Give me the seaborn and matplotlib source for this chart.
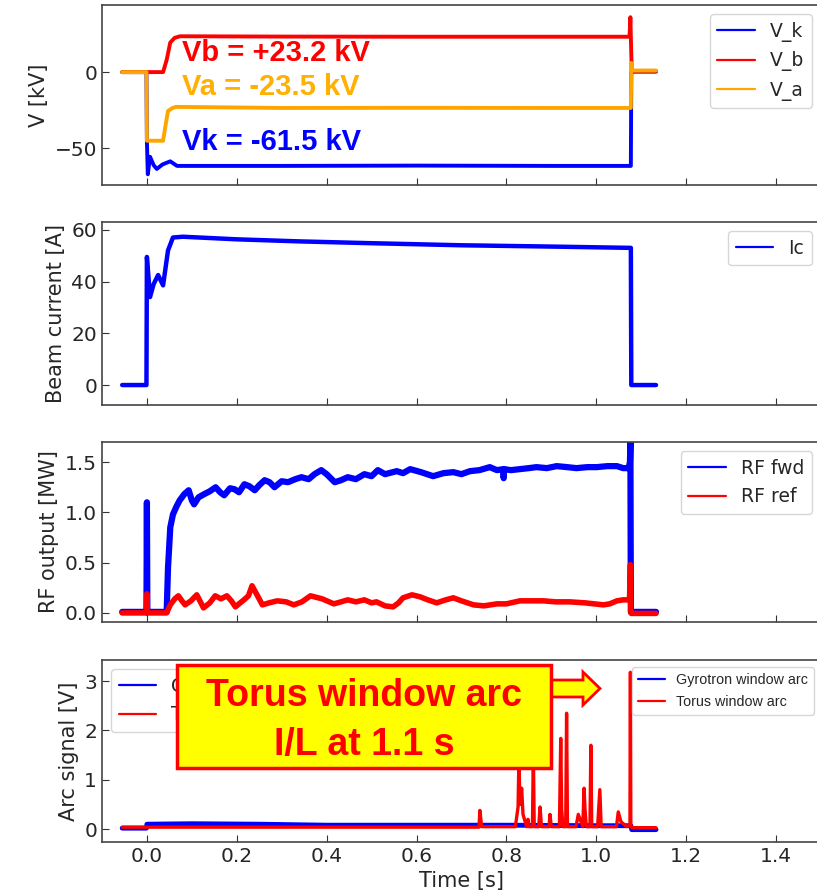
import numpy as np
import pandas as pd
import matplotlib
matplotlib.use("Agg")
import matplotlib.pyplot as plt
import matplotlib.patches as mpatches
import seaborn as sns

# --- voltages [kV] ---
t_vk = [-0.055, -0.001, 0.0, 0.002, 0.007, 0.015, 0.022, 0.035, 0.052, 0.067, 0.3, 0.6, 0.9, 1.077, 1.078, 1.08, 1.133]
vk = [0.0, 0.0, -45.0, -67.0, -55.5, -61.0, -63.5, -60.5, -58.5, -61.5, -61.5, -61.3, -61.5, -61.5, 0.0, 0.3, 0.3]
t_vb = [-0.055, 0.036, 0.044, 0.052, 0.062, 0.074, 0.3, 0.6, 0.9, 1.074, 1.076, 1.077, 1.079, 1.133]
vb = [0.0, 0.0, 8.0, 19.4, 22.5, 23.5, 23.3, 23.2, 23.2, 23.2, 36.0, 23.0, 0.8, 0.8]
t_va = [-0.055, -0.001, 0.0, 0.036, 0.042, 0.047, 0.057, 0.065, 0.3, 0.6, 0.9, 1.077, 1.078, 1.079, 1.082, 1.133]
va = [0.0, 0.0, -45.0, -45.0, -34.0, -25.5, -23.5, -22.8, -23.5, -23.4, -23.5, -23.5, 6.0, 2.0, 1.0, 1.0]

# --- beam current [A] ---
t_ic = [-0.055, -0.001, 0.0, 0.007, 0.015, 0.025, 0.036, 0.047, 0.058, 0.08, 0.2, 0.34, 0.5, 0.7, 0.9, 1.077, 1.078, 1.133]
ic = [0.0, 0.0, 49.5, 34.0, 39.0, 42.5, 38.5, 52.0, 57.0, 57.3, 56.3, 55.5, 54.8, 54.0, 53.5, 53.0, 0.0, 0.0]

# --- RF power [MW] ---
t_fwd = [-0.055, -0.001, 0.0, 0.001, 0.044, 0.047, 0.052, 0.058, 0.066, 0.073, 0.083, 0.093, 0.1, 0.105,
         0.115, 0.127, 0.14, 0.153, 0.163, 0.172, 0.185, 0.195, 0.205, 0.217, 0.228, 0.24, 0.25, 0.262, 0.273,
         0.284, 0.3, 0.314, 0.33, 0.344, 0.36, 0.373, 0.388, 0.4, 0.418, 0.432, 0.447, 0.465, 0.484, 0.5,
         0.514, 0.53, 0.556, 0.57, 0.586, 0.61, 0.637, 0.66, 0.682, 0.7, 0.719, 0.74, 0.763, 0.779, 0.793,
         0.794, 0.795, 0.81, 0.83, 0.85, 0.867, 0.89, 0.912, 0.935, 0.956, 0.98, 1.001, 1.025, 1.046, 1.06,
         1.072, 1.075, 1.076, 1.077, 1.079, 1.133]
fwd = [0.01, 0.01, 1.1, 0.01, 0.01, 0.45, 0.85, 0.98, 1.06, 1.12, 1.18, 1.22, 1.12, 1.08,
       1.15, 1.18, 1.21, 1.25, 1.2, 1.17, 1.24, 1.23, 1.2, 1.28, 1.26, 1.22, 1.27, 1.32, 1.3,
       1.25, 1.31, 1.3, 1.33, 1.35, 1.33, 1.38, 1.42, 1.38, 1.3, 1.32, 1.35, 1.33, 1.38, 1.36,
       1.42, 1.38, 1.41, 1.39, 1.43, 1.4, 1.36, 1.39, 1.4, 1.38, 1.41, 1.42, 1.45, 1.42, 1.43,
       1.34, 1.43, 1.42, 1.43, 1.44, 1.45, 1.44, 1.46, 1.45, 1.44, 1.45, 1.45, 1.46, 1.46, 1.44,
       1.44, 1.5, 1.7, 0.01, 0.01, 0.01]
t_ref = [-0.055, -0.001, 0.0, 0.001, 0.044, 0.052, 0.062, 0.07, 0.078, 0.085, 0.098, 0.111, 0.118, 0.126,
         0.14, 0.152, 0.165, 0.178, 0.188, 0.197, 0.205, 0.216, 0.226, 0.234, 0.245, 0.257, 0.272, 0.29,
         0.31, 0.327, 0.345, 0.364, 0.39, 0.416, 0.432, 0.447, 0.465, 0.484, 0.5, 0.511, 0.53, 0.548, 0.56,
         0.57, 0.59, 0.608, 0.625, 0.645, 0.665, 0.682, 0.7, 0.727, 0.75, 0.779, 0.8, 0.83, 0.855, 0.882,
         0.91, 0.941, 0.975, 1.016, 1.03, 1.046, 1.06, 1.074, 1.076, 1.077, 1.078, 1.133]
ref = [0.0, 0.0, 0.19, 0.0, 0.0, 0.08, 0.14, 0.17, 0.12, 0.08, 0.12, 0.18, 0.12, 0.05,
       0.1, 0.17, 0.14, 0.17, 0.12, 0.06, 0.09, 0.13, 0.17, 0.27, 0.18, 0.08, 0.1, 0.12,
       0.11, 0.08, 0.11, 0.17, 0.14, 0.09, 0.11, 0.13, 0.11, 0.13, 0.1, 0.11, 0.07, 0.06, 0.1,
       0.15, 0.18, 0.16, 0.13, 0.1, 0.13, 0.15, 0.12, 0.08, 0.07, 0.09, 0.09, 0.12, 0.12, 0.12,
       0.11, 0.11, 0.1, 0.08, 0.09, 0.12, 0.13, 0.13, 0.48, 0.0, -0.005, -0.005]

# --- arc signals [V] ---
t_gyr = [-0.055, -0.001, 0.0, 0.1, 0.25, 0.4, 0.6, 0.8, 1.0, 1.077, 1.079, 1.133]
gyr = [0.02, 0.02, 0.1, 0.11, 0.1, 0.08, 0.08, 0.08, 0.07, 0.07, -0.01, -0.01]
t_tor = [-0.055, 0.7, 0.739, 0.741, 0.745, 0.82, 0.826, 0.828, 0.83, 0.834, 0.837, 0.845, 0.848, 0.85,
         0.858, 0.86, 0.862, 0.872, 0.875, 0.878, 0.895, 0.897, 0.9, 0.918, 0.921, 0.923, 0.926, 0.932,
         0.934, 0.936, 0.955, 0.96, 0.97, 0.973, 0.975, 0.978, 0.986, 0.988, 0.99, 1.003, 1.008, 1.011,
         1.045, 1.049, 1.055, 1.068, 1.075, 1.076, 1.077, 1.079, 1.133]
tor = [0.04, 0.04, 0.04, 0.38, 0.05, 0.05, 0.45, 1.5, 0.5, 0.83, 0.3, 0.05, 0.2, 0.05,
       0.05, 1.6, 0.05, 0.05, 0.45, 0.05, 0.05, 0.3, 0.05, 0.05, 1.84, 0.4, 0.05, 0.05,
       2.35, 0.05, 0.05, 0.3, 0.05, 0.83, 0.4, 0.05, 0.05, 1.7, 0.05, 0.05, 0.8, 0.05,
       0.05, 0.35, 0.15, 0.05, 0.1, 3.18, 0.05, 0.03, 0.03]

BLUE, RED, ORANGE = "#0000ff", "#ff0000", "#ffa500"

sns.set_style("ticks", {"xtick.direction": "in", "ytick.direction": "in"})
plt.rcParams["font.family"] = ["DejaVu Sans"]

fig = plt.figure(figsize=(8.17, 8.94), dpi=100)
# the right-hand edge of the panels runs just past the picture border
L, W = 0.1248, 0.880
ax1 = fig.add_axes([L, 0.7931, W, 0.2013])
ax2 = fig.add_axes([L, 0.5470, W, 0.2047], sharex=ax1)
ax3 = fig.add_axes([L, 0.3043, W, 0.2013], sharex=ax1)
ax4 = fig.add_axes([L, 0.0582, W, 0.2036], sharex=ax1)

def trace(ax, t, y, color, label, lw=2.8):
    d = pd.DataFrame({"t": t, "y": y})
    sns.lineplot(data=d, x="t", y="y", ax=ax, color=color, label=label, lw=lw, sort=False, estimator=None)

trace(ax1, t_vk, vk, BLUE, "V_k")
trace(ax1, t_vb, vb, RED, "V_b")
trace(ax1, t_va, va, ORANGE, "V_a")
trace(ax2, t_ic, ic, BLUE, "Ic", lw=3.2)
trace(ax3, t_fwd, fwd, BLUE, "RF fwd", lw=4.5)
trace(ax3, t_ref, ref, RED, "RF ref", lw=4.0)
trace(ax4, t_gyr, gyr, BLUE, "Gyrotron window arc", lw=3.5)
trace(ax4, t_tor, tor, RED, "Torus window arc", lw=2.4)

ax1.set_xlim(-0.1, 1.5)
ax1.set_ylim(-74, 44)
ax1.set_yticks([-50, 0])
ax2.set_ylim(-7.7, 63)
ax2.set_yticks([0, 20, 40, 60])
ax3.set_ylim(-0.09, 1.70)
ax3.set_yticks([0.0, 0.5, 1.0, 1.5])
ax4.set_ylim(-0.26, 3.43)
ax4.set_yticks([0, 1, 2, 3])
ax4.set_xticks([0.0, 0.2, 0.4, 0.6, 0.8, 1.0, 1.2, 1.4])

ylabels = ["V [kV]", "Beam current [A]", "RF output [MW]", "Arc signal [V]"]
for ax, yl in zip([ax1, ax2, ax3, ax4], ylabels):
    ax.set_ylabel(yl, fontsize=15)
    ax.set_xlabel("")
    ax.tick_params(labelsize=14.5, length=5, color="#333333")
    for s in ax.spines.values():
        s.set_color("#444444")
        s.set_linewidth(1.2)
for ax in [ax1, ax2, ax3]:
    ax.tick_params(labelbottom=False)
ax4.set_xlabel("Time [s]", fontsize=15)

def fix_leg(leg):
    for h in leg.get_lines():
        h.set_linewidth(1.6)

fix_leg(ax1.legend(loc="upper right", fontsize=13.5))
fix_leg(ax2.legend(loc="upper right", fontsize=13.5))
fix_leg(ax3.legend(loc="upper right", fontsize=13.5))
leg_a = ax4.legend(loc="upper left", fontsize=13.5)
fix_leg(leg_a)
h, lab = ax4.get_legend_handles_labels()
leg_b = ax4.legend(h, lab, loc="upper right", handlelength=1.9, labelspacing=0.6,
                   prop={"family": "Liberation Sans", "size": 10.3})
fix_leg(leg_b)
ax4.add_artist(leg_a)

# voltage annotations
bold = dict(fontsize=21, fontweight="bold", family=["Liberation Sans", "DejaVu Sans"], va="center")
ax1.text(0.078, 12.5, "Vb = +23.2 kV", color=RED, **bold)
ax1.text(0.078, -9.5, "Va = -23.5 kV", color="#ffb000", **bold)
ax1.text(0.078, -46.0, "Vk = -61.5 kV", color=BLUE, **bold)

# yellow call-out box with arrow (figure inches)
arrow = mpatches.FancyArrow(5.45, 2.055, 0.55, 0.0, width=0.17, head_width=0.33, head_length=0.17,
                            length_includes_head=True, fc="#ffff00", ec=RED, lw=2,
                            transform=fig.dpi_scale_trans)
fig.patches.append(arrow)
box = mpatches.Rectangle((1.77, 1.26), 3.74, 1.03, fc="#ffff00", ec=RED, lw=2.5,
                         transform=fig.dpi_scale_trans)
fig.patches.append(box)
fig.text(3.64 / 8.17, 1.735 / 8.94, "Torus window arc\nI/L at 1.1 s", color=RED, ha="center", va="center",
         fontsize=27, fontweight="bold", family=["Liberation Sans", "DejaVu Sans"], linespacing=1.45)

fig.savefig("out.png", dpi=100)
